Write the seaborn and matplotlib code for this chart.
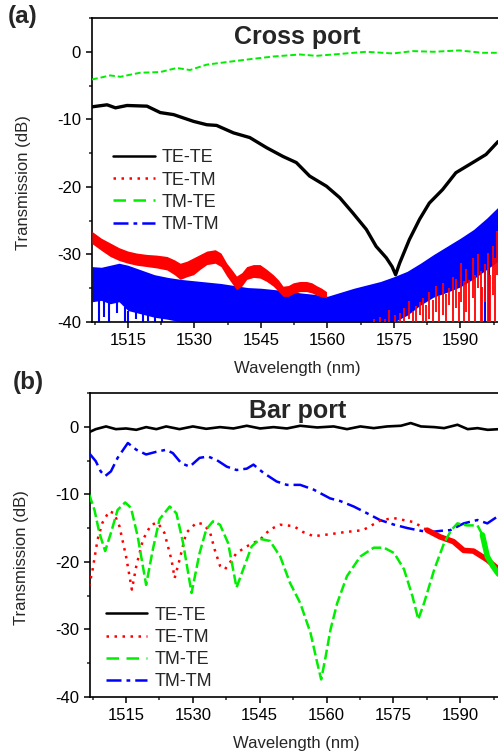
import matplotlib
matplotlib.use("Agg")
import matplotlib.pyplot as plt
from matplotlib.lines import Line2D
from matplotlib.ticker import MultipleLocator
import seaborn as sns

# ---------------- (a) Cross port ----------------
# TE-TE
wl_a_tete = [1506.9, 1510.3, 1512.2, 1514.8, 1519.3, 1522.3, 1525.3, 1529.8, 1532.8, 1535.0,
             1538.8, 1542.5, 1546.3, 1550.0, 1553.0, 1556.0, 1559.8, 1562.8, 1565.8, 1568.8,
             1571.0, 1573.3, 1574.6, 1575.4, 1576.3, 1578.5, 1580.8, 1583.0, 1586.0, 1589.0,
             1592.8, 1595.8, 1598.5]
a_tete = [-8.15, -7.85, -8.3, -7.95, -8.05, -9.0, -9.3, -10.3, -10.8, -10.9,
          -12.0, -12.7, -14.2, -15.5, -16.4, -18.4, -19.9, -21.6, -23.9, -26.3,
          -28.8, -30.5, -31.8, -33.0, -31.3, -27.8, -24.8, -22.4, -20.4, -17.9,
          -16.4, -15.2, -13.3]

# TM-TE
wl_a_tmte = [1506.9, 1509.0, 1511.0, 1513.3, 1515.5, 1517.8, 1522.3, 1526.0, 1529.0, 1532.8,
             1538.8, 1542.5, 1547.8, 1553.8, 1557.5, 1561.3, 1568.8, 1574.8, 1579.3, 1584.0,
             1589.8, 1595.0, 1598.5]
a_tmte = [-4.1, -3.8, -3.5, -3.7, -3.4, -3.1, -3.0, -2.4, -2.7, -1.9,
          -1.4, -1.1, -0.7, -0.4, -0.6, -0.4, 0.0, -0.25, 0.1, 0.0,
          0.2, -0.15, -0.15]

# TE-TM (noisy band, left part)
wl_a_tetm = [1506.9, 1509.0, 1511.0, 1513.0, 1515.0, 1517.0, 1519.3, 1521.5, 1523.8, 1525.5,
             1526.8, 1528.3, 1529.8, 1531.3, 1532.8, 1534.7, 1536.0, 1537.3, 1538.5, 1539.5,
             1540.7, 1541.8, 1543.3, 1544.8, 1546.3, 1547.8, 1549.0, 1550.0, 1551.2, 1552.3,
             1553.8, 1555.3, 1556.5, 1557.5, 1558.7, 1559.8]
a_tetm_hi = [-26.6, -27.6, -28.3, -29.0, -29.5, -29.8, -30.0, -30.1, -30.3, -30.8,
             -31.3, -31.0, -30.5, -30.0, -29.5, -29.3, -29.8, -31.3, -32.3, -33.2,
             -32.7, -31.8, -31.5, -31.5, -32.2, -33.0, -33.8, -34.7, -34.6, -34.2,
             -34.0, -34.0, -34.2, -34.6, -35.0, -35.5]
a_tetm_lo = [-28.4, -29.4, -30.3, -30.9, -31.3, -31.6, -31.8, -32.0, -32.3, -33.0,
             -33.7, -33.3, -33.0, -32.2, -31.5, -31.3, -31.8, -33.2, -34.3, -35.2,
             -34.7, -33.7, -33.4, -33.5, -34.0, -34.7, -35.5, -36.2, -36.2, -35.8,
             -35.5, -35.5, -35.7, -36.0, -36.3, -36.4]
# TE-TM (spiky right part)
wl_a_tetm_spk = [1570.5, 1571.8, 1573.0, 1574.0, 1575.2, 1576.3, 1577.4, 1578.5, 1579.3, 1580.0,
                 1580.8, 1581.5, 1582.3, 1583.0, 1583.8, 1584.5, 1585.2, 1586.0, 1586.8, 1587.5,
                 1588.3, 1589.0, 1589.6, 1590.2, 1590.8, 1591.3, 1592.0, 1592.8, 1593.4, 1594.0,
                 1594.6, 1595.0, 1595.6, 1596.2, 1596.8, 1597.3, 1597.9, 1598.3]
a_tetm_spk_hi = [-39.6, -39.2, -39.5, -38.2, -39.0, -38.6, -38.0, -36.9, -38.3, -37.6,
                 -37.0, -36.4, -37.5, -35.5, -36.8, -34.7, -36.0, -34.2, -35.8, -35.0,
                 -33.4, -33.7, -35.5, -31.3, -34.0, -32.2, -33.8, -30.5, -33.0, -30.0,
                 -32.5, -34.8, -31.4, -29.8, -33.0, -28.7, -30.5, -26.5]
a_tetm_spk_lo = [-40.0, -40.0, -40.0, -40.0, -40.0, -40.0, -40.0, -39.5, -40.0, -40.0,
                 -39.0, -40.0, -40.0, -39.5, -40.0, -38.5, -40.0, -39.0, -40.0, -37.5,
                 -40.0, -38.0, -40.0, -37.0, -40.0, -38.5, -40.0, -36.5, -40.0, -35.0,
                 -40.0, -40.0, -37.0, -40.0, -40.0, -36.0, -40.0, -33.0]

# TM-TM (noisy band)
wl_a_tmtm = [1506.9, 1509.0, 1511.0, 1513.0, 1515.0, 1518.0, 1521.0, 1524.0, 1527.0, 1530.0,
             1533.0, 1536.0, 1539.0, 1542.0, 1545.0, 1548.0, 1551.0, 1554.0, 1557.0, 1560.0,
             1563.0, 1566.0, 1569.0, 1572.0, 1575.0, 1578.0, 1581.0, 1584.0, 1587.0, 1590.0,
             1593.0, 1596.0, 1598.5]
a_tmtm_hi = [-31.8, -31.9, -31.6, -31.3, -31.6, -32.3, -33.0, -33.4, -33.7, -33.9,
             -34.1, -34.3, -34.6, -34.9, -35.0, -35.2, -35.4, -35.7, -35.9, -36.2,
             -35.6, -35.0, -34.5, -34.0, -33.3, -32.5, -31.3, -30.0, -28.8, -27.6,
             -26.3, -24.6, -23.0]
a_tmtm_lo = [-37.0, -36.8, -37.3, -37.0, -38.3, -38.8, -39.3, -39.6, -40.0, -40.0,
             -40.0, -40.0, -40.0, -40.0, -40.0, -40.0, -40.0, -40.0, -40.0, -40.0,
             -40.0, -40.0, -40.0, -40.0, -40.0, -39.0, -37.5, -36.3, -35.6, -34.8,
             -33.6, -32.2, -31.0]
# TM-TM downward spikes
wl_a_tmtm_spk = [1508.4, 1509.6, 1510.8, 1512.6, 1514.3, 1515.0, 1516.8, 1518.3, 1519.6, 1521.2,
                 1522.8, 1595.6, 1596.4]
a_tmtm_spk_hi = [-36.9, -36.8, -37.2, -37.0, -37.8, -38.3, -38.5, -38.8, -39.0, -39.2,
                 -39.4, -32.4, -32.0]
a_tmtm_spk_lo = [-40.0, -39.2, -40.0, -38.6, -40.0, -40.0, -39.5, -40.0, -39.8, -40.0,
                 -40.0, -40.0, -40.0]

# ---------------- (b) Bar port ----------------
wl_b_tete = [1506.7, 1508.2, 1510.5, 1512.7, 1515.0, 1517.3, 1519.5, 1521.8, 1524.0, 1527.0,
             1530.0, 1533.0, 1536.1, 1539.1, 1542.1, 1545.1, 1548.1, 1551.1, 1554.1, 1557.9,
             1561.6, 1564.6, 1567.6, 1570.6, 1573.6, 1576.7, 1578.9, 1581.2, 1584.2, 1586.4,
             1589.4, 1591.7, 1593.9, 1596.2, 1598.8]
b_tete = [-0.8, -0.35, 0.05, -0.35, -0.25, -0.45, -0.05, -0.35, 0.05, -0.35,
          0.05, -0.3, -0.05, -0.25, 0.15, -0.25, -0.05, -0.25, 0.15, -0.1,
          0.05, -0.35, 0.05, -0.2, 0.05, 0.15, 0.55, 0.05, -0.05, -0.2,
          0.3, -0.35, -0.2, -0.45, -0.35]

wl_b_tetm = [1506.7, 1507.5, 1508.6, 1509.7, 1511.2, 1512.3, 1513.5, 1515.0, 1516.3, 1517.3,
             1518.8, 1520.6, 1522.1, 1523.6, 1525.2, 1525.9, 1527.0, 1528.5, 1530.8, 1532.3,
             1533.8, 1534.9, 1536.1, 1537.2, 1538.3, 1539.8, 1542.1, 1545.1, 1547.3, 1549.6,
             1552.6, 1554.8, 1557.1, 1560.8, 1564.0, 1568.2, 1572.0, 1575.0, 1579.5, 1582.6,
             1585.5, 1588.5, 1590.8, 1593.0, 1596.1, 1598.8]
b_tetm = [-23.6, -21.1, -16.7, -14.2, -12.5, -12.8, -14.7, -19.2, -24.1, -20.6,
          -16.7, -14.5, -14.2, -15.7, -19.7, -22.4, -19.7, -15.7, -14.2, -14.4,
          -15.5, -18.2, -20.6, -21.1, -20.1, -18.7, -17.7, -16.7, -15.2, -14.5,
          -14.7, -15.6, -16.2, -15.9, -15.6, -15.3, -13.9, -13.5, -14.1, -15.3,
          -16.3, -17.0, -18.3, -18.4, -19.7, -21.2]

wl_b_tmte = [1506.7, 1507.9, 1509.0, 1510.3, 1511.6, 1513.1, 1514.8, 1516.1, 1517.6, 1519.5,
             1521.0, 1522.5, 1524.8, 1526.3, 1527.8, 1529.7, 1531.5, 1533.0, 1534.5, 1536.1,
             1537.9, 1539.8, 1541.3, 1543.2, 1545.1, 1547.3, 1549.6, 1551.8, 1554.1, 1556.4,
             1557.9, 1558.8, 1559.7, 1560.9, 1562.4, 1564.6, 1567.6, 1570.6, 1572.9, 1575.2,
             1577.4, 1579.3, 1580.6, 1581.9, 1584.2, 1586.4, 1588.0, 1589.4, 1591.5, 1593.9,
             1595.0, 1596.1, 1597.3, 1598.6]
b_tmte = [-10.0, -12.3, -15.7, -18.4, -15.7, -12.3, -11.2, -12.0, -16.2, -23.4,
          -18.2, -13.7, -11.8, -12.8, -17.2, -24.6, -18.7, -15.2, -14.0, -14.5,
          -17.2, -23.8, -21.1, -17.7, -16.6, -16.9, -19.2, -23.1, -26.1, -30.5,
          -34.9, -37.4, -34.4, -30.0, -26.1, -22.1, -19.2, -17.9, -17.9, -18.7,
          -21.1, -25.1, -28.5, -26.1, -21.1, -17.2, -15.3, -14.3, -14.6, -14.6,
          -16.0, -19.2, -20.6, -21.8]

wl_b_tmtm = [1506.7, 1508.2, 1509.3, 1510.3, 1511.6, 1513.1, 1515.4, 1517.3, 1519.5, 1521.8,
             1524.0, 1525.5, 1527.4, 1529.3, 1531.5, 1533.4, 1535.3, 1537.6, 1539.8, 1542.1,
             1543.6, 1545.8, 1548.8, 1551.1, 1554.1, 1557.1, 1560.8, 1563.1, 1566.1, 1569.1,
             1572.0, 1575.2, 1578.2, 1581.2, 1583.2, 1585.7, 1587.8, 1590.8, 1593.9, 1596.1,
             1598.8]
b_tmtm = [-3.9, -5.1, -6.6, -7.3, -6.6, -4.6, -2.4, -3.4, -4.1, -3.7,
          -3.4, -3.9, -5.4, -5.9, -4.6, -4.4, -4.9, -5.9, -6.4, -6.2,
          -5.6, -6.8, -8.1, -8.6, -8.6, -9.3, -10.6, -11.0, -11.8, -12.8,
          -13.8, -14.5, -15.0, -15.4, -15.6, -15.4, -15.3, -14.3, -13.8, -14.3,
          -13.1]

labels = ["TE-TE", "TE-TM", "TM-TE", "TM-TM"]
colors = {"TE-TE": "black", "TE-TM": "#ff0000", "TM-TE": "#00ee00", "TM-TM": "#0000ff"}
styles = {"TE-TE": "-", "TE-TM": (0, (1, 2.2)), "TM-TE": (0, (5, 3)),
          "TM-TM": (0, (6, 2, 1.5, 2))}

sns.set_style("ticks")
plt.rcParams["font.family"] = ["Liberation Sans", "DejaVu Sans"]
plt.rcParams["axes.unicode_minus"] = False

fig = plt.figure(figsize=(4.98, 7.52), dpi=100)
ax_a = fig.add_axes([92 / 498, 1 - 322 / 752, 406 / 498, 304 / 752])
ax_b = fig.add_axes([90 / 498, 1 - 697 / 752, 408 / 498, 304 / 752])

# panel a
ax_a.fill_between(wl_a_tmtm, a_tmtm_lo, a_tmtm_hi, color=colors["TM-TM"], lw=0, zorder=2)
ax_a.vlines(wl_a_tmtm_spk, a_tmtm_spk_lo, a_tmtm_spk_hi, color=colors["TM-TM"], lw=1.5, zorder=2)
ax_a.vlines(wl_a_tetm_spk, a_tetm_spk_lo, a_tetm_spk_hi, color=colors["TE-TM"], lw=1.3, zorder=3)
ax_a.fill_between(wl_a_tetm, a_tetm_lo, a_tetm_hi, color=colors["TE-TM"], lw=0, zorder=3)
sns.lineplot(x=wl_a_tmte, y=a_tmte, ax=ax_a, color=colors["TM-TE"], lw=1.4,
             linestyle=(0, (3, 1.5)), estimator=None, zorder=4)
sns.lineplot(x=wl_a_tete, y=a_tete, ax=ax_a, color=colors["TE-TE"], lw=2.4,
             estimator=None, zorder=5)

# panel b
sns.lineplot(x=wl_b_tmtm, y=b_tmtm, ax=ax_b, color=colors["TM-TM"], lw=1.8,
             linestyle=styles["TM-TM"], estimator=None, zorder=3)
sns.lineplot(x=wl_b_tetm, y=b_tetm, ax=ax_b, color=colors["TE-TM"], lw=1.8,
             linestyle=styles["TE-TM"], estimator=None, zorder=4)
# noisier tail of TE-TM drawn heavier
tail = [i for i, w in enumerate(wl_b_tetm) if w >= 1582]
sns.lineplot(x=[wl_b_tetm[i] for i in tail], y=[b_tetm[i] for i in tail], ax=ax_b,
             color=colors["TE-TM"], lw=4, estimator=None, zorder=4)
sns.lineplot(x=wl_b_tmte, y=b_tmte, ax=ax_b, color=colors["TM-TE"], lw=1.8,
             linestyle=(0, (4, 1.5)), estimator=None, zorder=5)
tail = [i for i, w in enumerate(wl_b_tmte) if w >= 1594.5]
sns.lineplot(x=[wl_b_tmte[i] for i in tail], y=[b_tmte[i] for i in tail], ax=ax_b,
             color=colors["TM-TE"], lw=4, estimator=None, zorder=5)
sns.lineplot(x=wl_b_tete, y=b_tete, ax=ax_b, color=colors["TE-TE"], lw=1.9,
             estimator=None, zorder=6)

handles = [Line2D([0], [0], color=colors[lab], lw=1.8, linestyle=styles[lab]) for lab in labels]

for ax, title, leg_xy, tx, ty in [(ax_a, "Cross port", (0.052, 0.568), 0.505, 0.937),
                                  (ax_b, "Bar port", (0.039, 0.297), 0.508, 0.941)]:
    ax.set_xlim(1506.9, 1598.5)
    ax.set_ylim(-40, 5)
    ax.xaxis.set_major_locator(MultipleLocator(15))
    ax.xaxis.set_minor_locator(MultipleLocator(7.5))
    ax.yaxis.set_major_locator(MultipleLocator(10))
    ax.yaxis.set_minor_locator(MultipleLocator(5))
    ax.set_xticks([1515, 1530, 1545, 1560, 1575, 1590])
    ax.set_yticks([-40, -30, -20, -10, 0])
    ax.tick_params(which="major", direction="out", length=4, width=1.1,
                   labelsize=12, pad=4, colors="black")
    ax.tick_params(which="minor", direction="out", length=2.5, width=1.1)
    for side in ["left", "bottom", "top"]:
        ax.spines[side].set_visible(True)
        ax.spines[side].set_linewidth(1.2)
        ax.spines[side].set_color("black")
    ax.spines["right"].set_visible(False)
    ax.set_xlabel("Wavelength (nm)", fontsize=12)
    ax.set_ylabel("Transmission (dB)", fontsize=12)
    ax.xaxis.set_label_coords(0.505, -0.128)
    ax.yaxis.set_label_coords(-0.15, 0.46)
    ax.text(tx, ty, title, transform=ax.transAxes, ha="center", va="center",
            fontsize=18, fontweight="bold")
    ax.legend(handles, labels, loc="upper left", bbox_to_anchor=leg_xy, frameon=False,
              fontsize=13, borderpad=0, borderaxespad=0, handlelength=2.3,
              handletextpad=0.4, labelspacing=0.29)

fig.text(23 / 498, 1 - 16 / 752, "(a)", fontsize=17.5, fontweight="bold", ha="center", va="center")
fig.text(28 / 498, 1 - 382 / 752, "(b)", fontsize=17.5, fontweight="bold", ha="center", va="center")

fig.savefig("out.png", dpi=100)
